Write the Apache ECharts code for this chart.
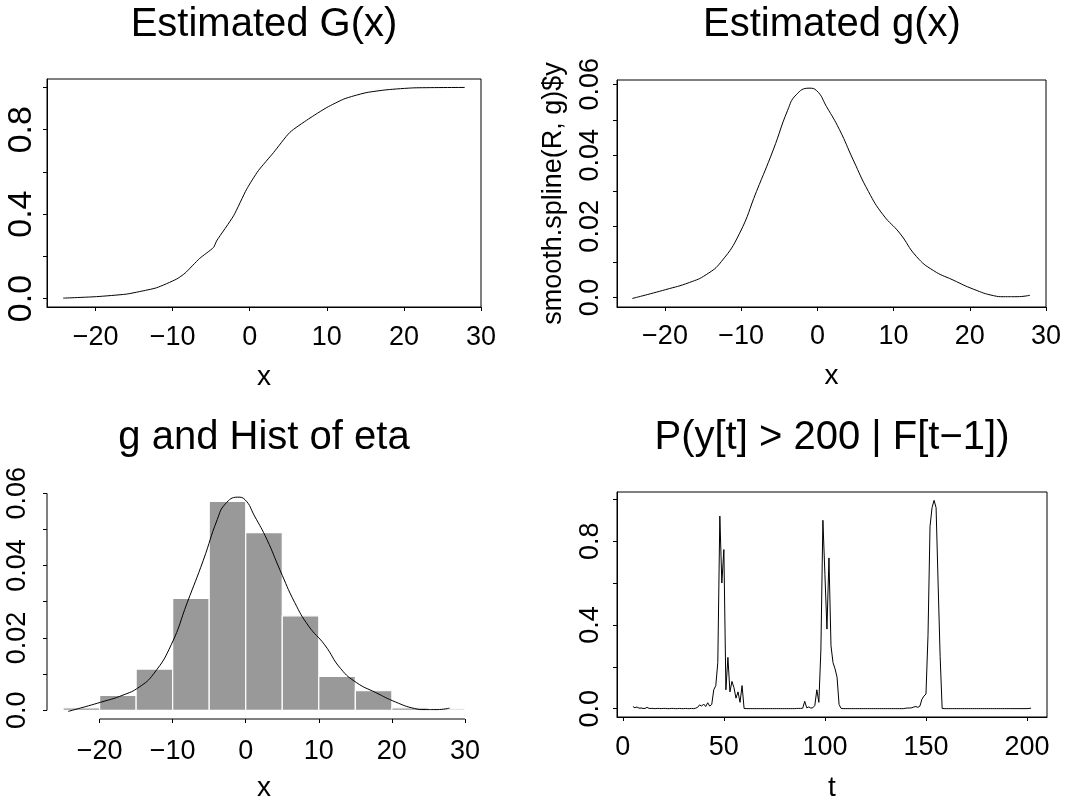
<!DOCTYPE html>
<html><head><meta charset="utf-8">
<script src="https://cdn.jsdelivr.net/npm/echarts@6/dist/echarts.min.js"></script>
<style>html,body{margin:0;padding:0;background:#fff}#c{width:1086px;height:803px}</style>
</head><body><div id="c"></div>
<script>
// ---- Panel 1: Estimated G(x)
const G_x = [-24.2,-19.9,-16.0,-14.3,-12.1,-9.5,-8.4,-6.5,-4.7,-4.3,-2.1,-0.4,1.1,3.1,5.2,7.6,10.0,12.2,13.5,15.2,17.8,21.3,27.9];
const G_y = [0.002,0.009,0.021,0.033,0.051,0.092,0.120,0.190,0.242,0.273,0.392,0.518,0.605,0.692,0.787,0.850,0.905,0.945,0.960,0.976,0.989,0.998,1.000];
// ---- Panel 2 & 3: estimated g(x)
const g_x = [-24.3,-19.9,-16.8,-14.6,-12.6,-10.2,-8.0,-5.8,-3.9,-2.8,-1.1,-0.1,1.2,2.9,4.7,6.7,8.6,10.8,13.0,15.2,17.8,20.5,23.1,24.4,26.2,27.9];
const g_y = [-0.0003,0.0022,0.0042,0.0064,0.0101,0.0181,0.0298,0.0415,0.0527,0.0570,0.0589,0.0582,0.0537,0.0472,0.0387,0.0298,0.0233,0.0181,0.0115,0.0076,0.0049,0.0023,0.0005,0.0002,0.0002,0.0006];
// ---- Panel 3: histogram of eta (density)
const histBreaks = [-25,-20,-15,-10,-5,0,5,10,15,20,25,30];
const histDensity = [0.0007,0.0041,0.0114,0.0309,0.0577,0.0491,0.0261,0.0094,0.0054,0.0007,0.0004];
// ---- Panel 4: P(y[t] > 200 | F[t-1]), t = 5..202
const tStart = 5;
const pVals = [
 0.010,0.004,0.008,0.002,0.003,0.001,0.001,0.006,0.001,0.001,
 0.001,0.000,0.001,0.001,0.000,0.001,0.001,0.000,0.000,0.001,0.001,0.000,0.000,0.001,0.000,0.000,0.001,0.000,0.000,0.001,0.000,
 0.002,0.006,0.018,0.012,0.022,0.010,0.028,0.012,0.020,0.090,0.110,0.220,
 0.920,0.600,0.760,0.090,0.245,0.080,0.130,0.100,0.050,0.080,0.030,0.110,0.001,
 0.000,0.000,0.000,0.000,0.000,0.000,0.000,0.000,0.000,0.000,0.000,0.000,0.000,0.000,0.000,0.000,0.000,0.000,0.000,0.000,0.000,0.000,0.000,0.000,0.000,0.001,0.001,0.001,
 0.002,0.035,0.004,0.008,0.003,0.004,0.015,0.090,0.030,0.280,0.900,0.640,0.380,0.720,0.300,0.220,0.190,0.150,0.020,0.001,
 0.000,0.000,0.000,0.000,0.000,0.000,0.000,0.000,0.000,0.000,0.000,0.000,0.000,0.000,0.000,0.000,0.000,0.000,0.000,0.000,0.000,0.000,0.000,0.000,0.000,0.000,0.000,0.000,0.000,0.000,0.000,0.002,0.003,0.003,
 0.004,0.008,0.010,0.006,0.012,0.045,0.060,0.070,0.350,0.870,0.960,0.995,0.960,0.600,0.250,0.001,
 0.000,0.000,0.000,0.000,0.000,0.000,0.000,0.000,0.000,0.000,0.000,0.000,0.000,0.000,0.000,0.000,0.000,0.000,0.000,0.000,0.000,0.000,
 0.000,0.000,0.000,0.000,0.000,0.000,0.000,0.000,0.000,0.000,0.000,0.000,0.000,0.000,0.000,0.000,0.000,0.000,0.000,0.000,0.001,0.002
];
// ---- ticks and labels
const xTicks = [-20,-10,0,10,20,30];
const GyTicks = [0,0.2,0.4,0.6,0.8,1.0];
const GyLabels = [0,0.4,0.8];
const gyTicks = [0,0.01,0.02,0.03,0.04,0.05,0.06];
const gyLabels = [0,0.02,0.04,0.06];
const tTicks = [0,50,100,150,200];
const pyTicks = [0,0.2,0.4,0.6,0.8,1.0];
const pyLabels = [0,0.4,0.8];
const titles = ['Estimated G(x)','Estimated g(x)','g and Hist of eta','P(y[t] > 200 | F[t\u22121])'];
const xNames = ['x','x','x','t'];
const yName2 = 'smooth.spline(R, g)$y';
// axis ranges (R style 4% extension)
const r1x = [-26.3, 30.0], r1y = [-0.04, 1.04];
const r2x = [-26.3, 30.0], r2y = [-0.0027, 0.0612];
const r3x = [-27.2, 32.2], r3y = [-0.0024, 0.0606];
const r4x = [-2.88, 209.88], r4y = [-0.04, 1.035];

const FF = "'Liberation Sans', Arial, Helvetica, sans-serif";
const fmtX = v => String(v).replace('-', '\u2212');
const fmtY = v => (v === 0 ? '0.0' : String(+v.toFixed(2)));

function xAxis(gi, r, ticks, margin, name, nameGap, line) {
  return {type:'value', gridIndex:gi, min:r[0], max:r[1], name:name, nameLocation:'middle', nameGap:nameGap,
    nameTextStyle:{fontSize:28, color:'#000', fontFamily:FF},
    axisLine:{show:line, onZero:false, lineStyle:{color:'#000', width:1}},
    axisTick:{show:true, inside:false, length:4, customValues:ticks, lineStyle:{color:'#000', width:1}},
    axisLabel:{customValues:ticks, fontSize:27, color:'#000', fontFamily:FF, margin:margin, formatter:fmtX},
    splitLine:{show:false}};
}
function yAxis(gi, r, ticks, labels, margin, fs, line, name, nameGap) {
  return {type:'value', gridIndex:gi, min:r[0], max:r[1], name:name||'', nameLocation:'middle', nameGap:nameGap||0, nameRotate:90,
    nameTextStyle:{fontSize:27, color:'#000', fontFamily:FF},
    axisLine:{show:line, onZero:false, lineStyle:{color:'#000', width:1}},
    axisTick:{show:true, inside:false, length:4, customValues:ticks, lineStyle:{color:'#000', width:1}},
    axisLabel:{customValues:labels, rotate:90, fontSize:fs, color:'#000', fontFamily:FF, margin:margin, formatter:fmtY},
    splitLine:{show:false}};
}
const zip = (a,b) => a.map((v,i)=>[v,b[i]]);
const lineStyle = {color:'#000', width:1};

const titlePos = [[264,25],[832,25],[264,438],[832,438]];

const option = {
  backgroundColor:'#fff',
  animation:false,
  graphic: titles.map((t,i)=>({type:'text', x:titlePos[i][0], y:titlePos[i][1],
    style:{text:t, fontSize:40, fontFamily:FF, fill:'#000', align:'center', verticalAlign:'middle'}})),
  grid:[
    {left:47, top:79, width:434, height:228, show:true, borderColor:'#000', borderWidth:1, backgroundColor:'transparent'},
    {left:617, top:80, width:429, height:227, show:true, borderColor:'#000', borderWidth:1, backgroundColor:'transparent'},
    {left:47, top:491, width:434, height:228, show:false},
    {left:617, top:492, width:430, height:227, show:true, borderColor:'#000', borderWidth:1, backgroundColor:'transparent'}
  ],
  xAxis:[
    xAxis(0, r1x, xTicks, 17, xNames[0], 56, true),
    xAxis(1, r2x, xTicks, 16, xNames[1], 55, true),
    xAxis(2, r3x, xTicks, 19, xNames[2], 55, false),
    xAxis(3, r4x, tTicks, 17, xNames[3], 57, true)
  ],
  yAxis:[
    yAxis(0, r1y, GyTicks, GyLabels, 8, 34, true),
    yAxis(1, r2y, gyTicks, gyLabels, 13, 27, true, yName2, 50),
    yAxis(2, r3y, gyTicks, gyLabels, 16, 27, false),
    yAxis(3, r4y, pyTicks, pyLabels, 13, 27, true)
  ],
  series:[
    {type:'line', xAxisIndex:0, yAxisIndex:0, data:zip(G_x,G_y), showSymbol:false, symbol:'none', lineStyle:lineStyle, smooth:0.2},
    {type:'line', xAxisIndex:1, yAxisIndex:1, data:zip(g_x,g_y), showSymbol:false, symbol:'none', lineStyle:lineStyle, smooth:0.5},
    {type:'custom', xAxisIndex:2, yAxisIndex:2,
      data: histDensity.map((d,i)=>[histBreaks[i], histBreaks[i+1], d]),
      renderItem:(params, api)=>{
        const p0 = api.coord([api.value(0), api.value(2)]);
        const p1 = api.coord([api.value(1), 0]);
        return {type:'rect', shape:{x:p0[0], y:p0[1], width:p1[0]-p0[0], height:p1[1]-p0[1]},
          style:{fill:'#999999', stroke:'#ffffff', lineWidth:1.2}};
      }},
    {type:'line', xAxisIndex:2, yAxisIndex:2, data:zip(g_x,g_y), showSymbol:false, symbol:'none', lineStyle:lineStyle, smooth:0.5, z:5},
    // R-style axis lines spanning only the tick range (panel 3)
    {type:'line', xAxisIndex:2, yAxisIndex:2, data:[[xTicks[0], r3y[0]],[xTicks[xTicks.length-1], r3y[0]]], symbol:'none', lineStyle:lineStyle, clip:false, silent:true},
    {type:'line', xAxisIndex:2, yAxisIndex:2, data:[[r3x[0], gyTicks[0]],[r3x[0], gyTicks[gyTicks.length-1]]], symbol:'none', lineStyle:lineStyle, clip:false, silent:true},
    {type:'line', xAxisIndex:3, yAxisIndex:3, data:pVals.map((v,i)=>[tStart+i, v]), showSymbol:false, symbol:'none', lineStyle:lineStyle}
  ]
};
const chart = echarts.init(document.getElementById('c'), null, {renderer:'canvas'});
chart.setOption(option);
</script>
</body></html>
